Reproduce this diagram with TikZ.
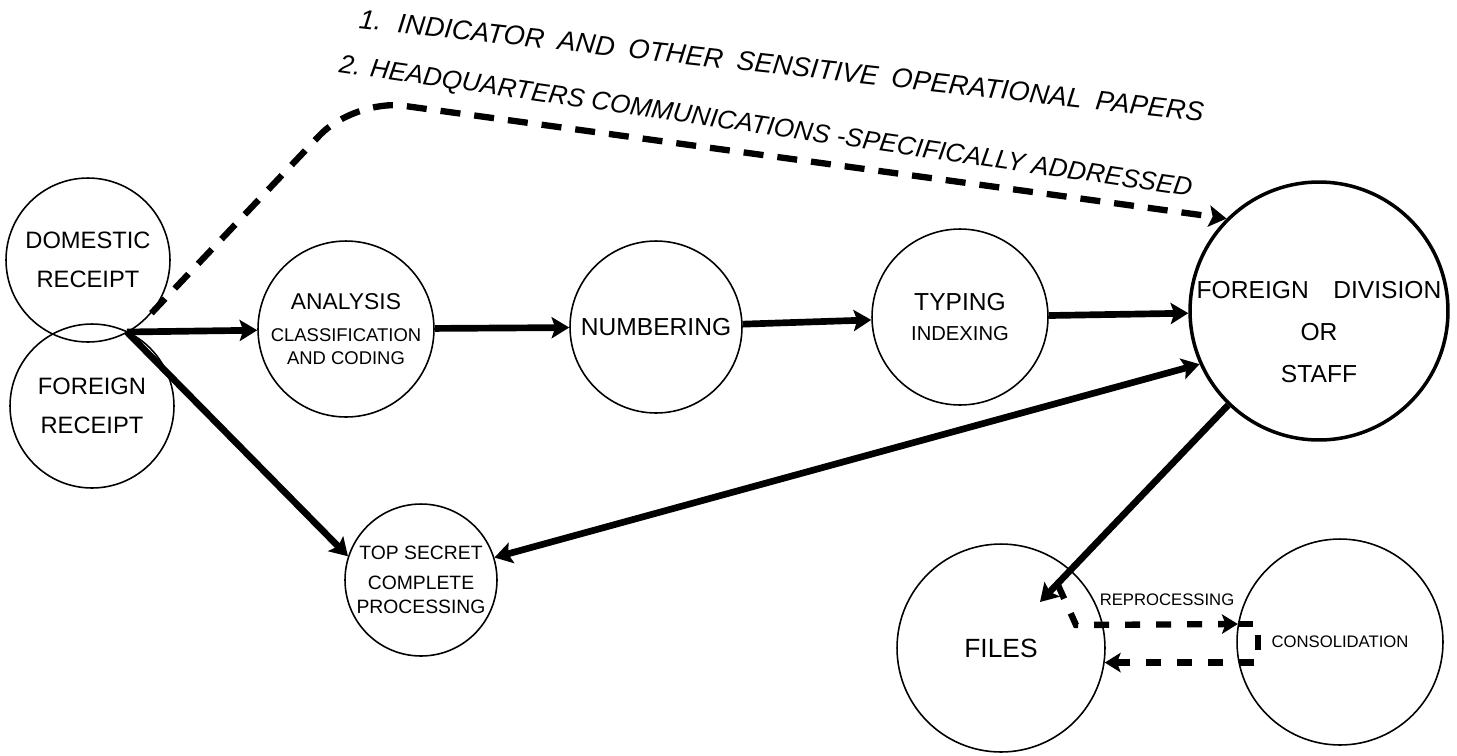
\documentclass[tikz,border=0pt]{standalone}
\usepackage{fontspec}
\setmainfont{Liberation Sans}
\usetikzlibrary{arrows.meta}
\newcommand*{\widewords}{\spaceskip=0.5em\relax}
\tikzstyle{office} = [draw, circle, line width=0.9pt, inner sep=0pt, align=center]
\tikzstyle{head office} = [office, line width=2pt]
\tikzstyle{flow} = [-{Stealth[length=10pt, width=12pt, inset=2pt]}, line width=3.8pt]
\tikzstyle{both ways} = [{Stealth[length=10pt, width=12pt, inset=2pt]}-{Stealth[length=10pt, width=12pt, inset=2pt]}, line width=3.8pt]
\tikzstyle{courier} = [flow, line width=3.6pt, dash pattern=on 0.4cm off 0.28cm]
\tikzstyle{rework} = [-{Stealth[length=9pt, width=11pt, inset=2pt]}, line width=3.6pt, dash pattern=on 0.3cm off 0.32cm]
\tikzstyle{memo} = [anchor=base west, inner sep=0pt, font=\fontsize{15.5}{18}\selectfont\itshape]
\tikzstyle{tag} = [inner sep=0pt, font=\fontsize{9.5}{11}\selectfont]

\begin{document}
\begin{tikzpicture}[x=0.02cm, y=-0.02cm]
    \useasboundingbox (0,0) rectangle (1457,755);

    \node (domestic) [office, minimum size=3.28cm, font=\fontsize{13.5}{22}\selectfont] at (88,260) {DOMESTIC\\RECEIPT};
    \node (foreign) [office, minimum size=3.28cm, font=\fontsize{13.5}{22}\selectfont] at (92,406) {FOREIGN\\RECEIPT};
    \node (analysis) [office, minimum size=3.52cm, font=\fontsize{10.5}{13}\selectfont] at (346,329)
        {{\fontsize{13}{13}\selectfont ANALYSIS}\\[5pt]CLASSIFICATION\\AND CODING};
    \node (numbering) [office, minimum size=3.44cm, font=\fontsize{14}{17}\selectfont] at (656,327) {NUMBERING};
    \node (typing) [office, minimum size=3.52cm, font=\fontsize{11.5}{17}\selectfont] at (960,317)
        {{\fontsize{14}{17}\selectfont TYPING}\\INDEXING};
    \node (division) [head office, minimum size=5.16cm] at (1319,311) {};
    \node (division text) [align=center, font=\fontsize{14}{24}\selectfont] at ([yshift=-12pt]division.center)
        {FOREIGN\quad DIVISION\\OR\\STAFF};
    \node (top secret) [office, minimum size=3.04cm, font=\fontsize{11}{14}\selectfont] at (421,580)
        {TOP SECRET\\[3pt]COMPLETE\\PROCESSING};
    \node (files) [office, minimum size=4.16cm, font=\fontsize{15}{18}\selectfont] at (1001,648) {FILES};
    \node (consolidation) [office, minimum size=4.12cm, font=\fontsize{9.5}{11}\selectfont] at (1340,642) {CONSOLIDATION};

    % Routing notes.
    \node (note 1) [memo, rotate=-6.3] at (358,28) {\widewords 1. INDICATOR AND OTHER SENSITIVE OPERATIONAL PAPERS};
    \node (note 2) [memo, font=\fontsize{14.8}{18}\selectfont\itshape, rotate=-8.3] at (338,72)
        {2. HEADQUARTERS COMMUNICATIONS -SPECIFICALLY ADDRESSED};
    \node (reprocessing) [tag] at (1167,600) {REPROCESSING};

    \coordinate (split) at (127,332);
    \coordinate (bend) at (354,99);
    \coordinate (files in) at (1040,602);
    \coordinate (rework start) at (1058,585);
    \coordinate (rework bend) at (1076,625);

    % Arrows.
    \draw [flow] (split) -- (analysis);
    \draw [flow] (split) -- (top secret.162);
    \draw [flow] (analysis) -- (numbering);
    \draw [flow] (numbering) -- (typing);
    \draw [flow] (typing) -- (division);
    \draw [both ways] (top secret.17) -- (division.204);
    \draw [flow] (division.226) -- (files in);
    \draw [courier, rounded corners=1cm] (domestic.-40) -- (bend) -- (division.135);

    \draw [rework] (rework start) -- (rework bend) -- (consolidation.170);
    \draw [rework] (consolidation.170) -- ++(20,0) |- (files.-8);
\end{tikzpicture}
\end{document}
